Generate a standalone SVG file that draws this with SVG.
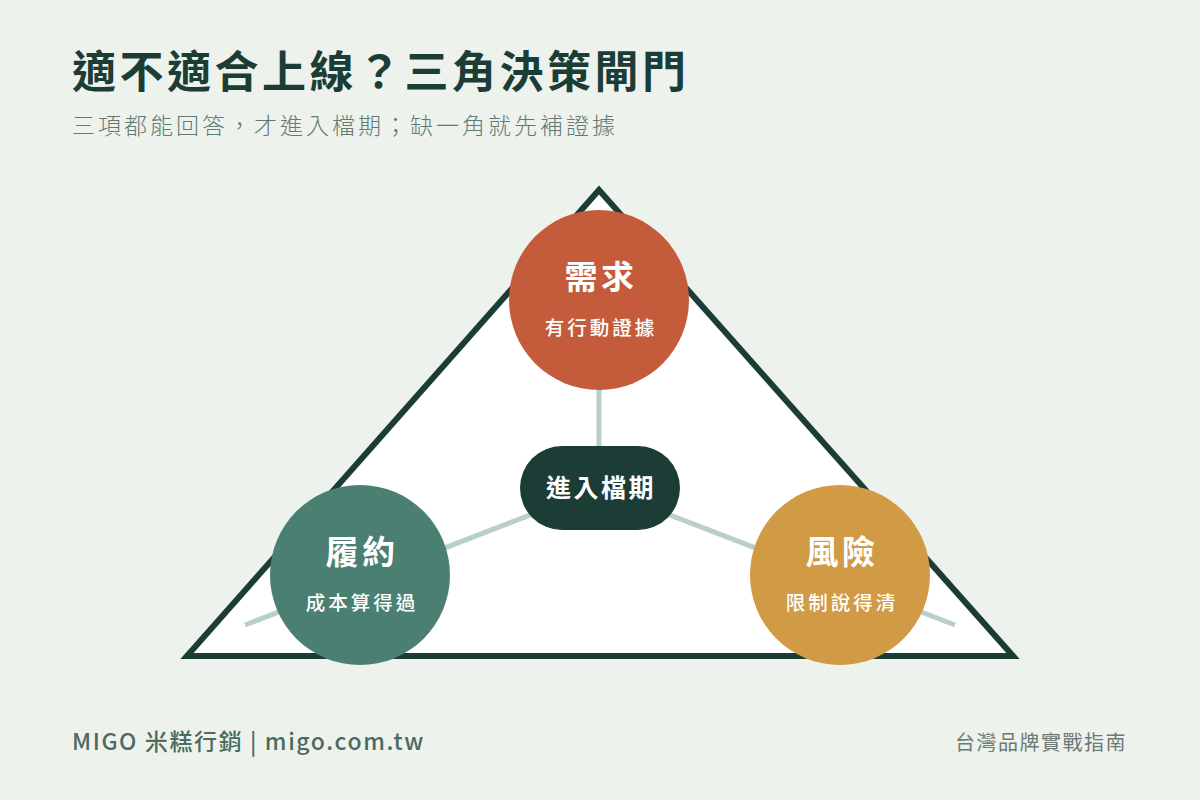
<svg xmlns="http://www.w3.org/2000/svg" width="1200" height="800" viewBox="0 0 1200 800">
<style>
.t{font-family:"Noto Sans CJK TC","Noto Sans",sans-serif}
.title{font-size:44px;font-weight:700;fill:#1b3d36;letter-spacing:3.5px}
.sub{font-size:23px;font-weight:300;fill:#627a72;letter-spacing:3px}
.nt{font-size:33px;font-weight:700;fill:#fff;text-anchor:middle;letter-spacing:3.5px}
.ns{font-size:19.5px;font-weight:500;fill:#fff;text-anchor:middle;letter-spacing:3px}
.conn{stroke:#b9d0c8;stroke-width:5;fill:none}
</style>
<rect width="1200" height="800" fill="#edf2ed"/>
<text class="t title" x="72" y="88">適不適合上線？三角決策閘門</text>
<text class="t sub" x="72" y="134">三項都能回答，才進入檔期；缺一角就先補證據</text>
<polygon points="599,190 187,656 1013,656" fill="#fff" stroke="#1b3d36" stroke-width="6" stroke-linejoin="miter"/>
<g id="connectors">
<line class="conn" x1="599" y1="388" x2="599" y2="448"/>
<line class="conn" x1="600" y1="488" x2="245" y2="625"/>
<line class="conn" x1="600" y1="488" x2="955" y2="625"/>
</g>
<g id="node-demand">
<circle cx="599" cy="300" r="90" fill="#c45c3b"/>
<text class="t nt" x="601" y="289">需求</text>
<text class="t ns" x="601" y="335">有行動證據</text>
</g>
<g id="node-fulfill">
<circle cx="360" cy="575" r="90" fill="#4a7f72"/>
<text class="t nt" x="362" y="564">履約</text>
<text class="t ns" x="362" y="610">成本算得過</text>
</g>
<g id="node-risk">
<circle cx="840" cy="575" r="90" fill="#d19a45"/>
<text class="t nt" x="842" y="564">風險</text>
<text class="t ns" x="842" y="610">限制說得清</text>
</g>
<g id="node-center">
<rect x="520" y="446" width="160" height="84" rx="42" fill="#1b3d36"/>
<text class="t" x="601" y="497" font-size="25" font-weight="700" fill="#fff" text-anchor="middle" letter-spacing="2.5">進入檔期</text>
</g>
<text class="t" x="72" y="750" font-size="23" font-weight="500" fill="#4a6b60" letter-spacing="1.6">MIGO 米糕行銷 | migo.com.tw</text>
<text class="t" x="1127" y="750" font-size="20" fill="#6b7a75" text-anchor="end" letter-spacing="1.5">台灣品牌實戰指南</text>
</svg>
